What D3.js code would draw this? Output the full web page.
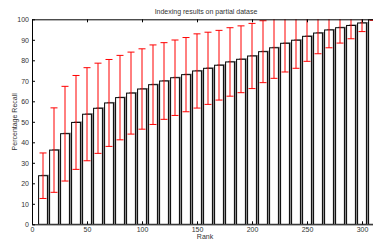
<!DOCTYPE html>
<html>
<head>
<meta charset="utf-8">
<script src="https://cdn.jsdelivr.net/npm/d3@7"></script>
<style>
  body { margin: 0; background: #fff; }
  svg { display: block; font-family: "Liberation Sans", Arial, sans-serif; }
</style>
</head>
<body>
<div id="chart-holder"></div>
<script>
// ranks on the x axis
const ranks = [10, 20, 30, 40, 50, 60, 70, 80, 90, 100, 110, 120, 130, 140, 150, 160,
  170, 180, 190, 200, 210, 220, 230, 240, 250, 260, 270, 280, 290, 300, 310];
// mean recall (%)
const recall = [23.7, 36.2, 44.2, 49.7, 53.7, 56.6, 59.2, 61.8, 64.0, 66.0, 68.1, 69.9,
  71.5, 73.0, 74.8, 76.1, 77.6, 79.2, 80.5, 82.1, 84.2, 86.1, 88.3, 89.8, 91.7, 93.3,
  94.8, 95.9, 97.0, 98.2, 100];
// standard deviation (error bar half-length)
const spread = [11.1, 20.6, 23.1, 22.9, 22.7, 22.0, 21.2, 20.6, 20.0, 19.6, 19.4, 18.7,
  18.4, 18.1, 18.1, 17.6, 17.0, 16.7, 16.3, 15.9, 15.1, 14.9, 14.0, 13.7, 12.2, 10.1,
  8.7, 7.5, 6.5, 4.2, 0.5];
const xTicks = [0, 50, 100, 150, 200, 250, 300];
const yTicks = [0, 10, 20, 30, 40, 50, 60, 70, 80, 90, 100];

const width = 373;
const height = 240;
const marginTop = 19.3;
const marginBottom = 15.7;
const marginLeft = 32;
const marginRight = 0;

const x = d3.scaleLinear().domain([0, 310]).range([marginLeft, width - marginRight]);
const y = d3.scaleLinear().domain([0, 100]).range([height - marginBottom, marginTop]);
const barW = x(8) - x(0);

const svg = d3.select("#chart-holder")
  .append("svg")
  .attr("width", width)
  .attr("height", height);

svg.append("clipPath").attr("id", "plot-clip")
  .append("rect")
  .attr("x", marginLeft)
  .attr("y", marginTop)
  .attr("width", width - marginRight - marginLeft)
  .attr("height", height - marginBottom - marginTop);

const plot = svg.append("g").attr("clip-path", "url(#plot-clip)");

// gray shadow behind each bar
plot.selectAll("rect.shadow")
  .data(ranks)
  .join("rect")
  .attr("class", "shadow")
  .attr("x", (d) => x(d) - barW / 2 + 2.6)
  .attr("y", (d, i) => y(recall[i]) - 1)
  .attr("width", barW)
  .attr("height", (d, i) => y(0) - y(recall[i]) + 1)
  .attr("fill", "#8c8c8c");

// the bars
plot.selectAll("rect.bar")
  .data(ranks)
  .join("rect")
  .attr("class", "bar")
  .attr("x", (d) => x(d) - barW / 2)
  .attr("y", (d, i) => y(recall[i]))
  .attr("width", barW)
  .attr("height", (d, i) => y(0) - y(recall[i]))
  .attr("fill", "#fff")
  .attr("stroke", "#000")
  .attr("stroke-width", 1);

// error bars
const err = plot.selectAll("g.err")
  .data(ranks)
  .join("g")
  .attr("class", "err")
  .attr("stroke", "#ff0000")
  .attr("stroke-width", 1);

err.append("line")
  .attr("x1", (d) => x(d)).attr("x2", (d) => x(d))
  .attr("y1", (d, i) => y(recall[i] - spread[i]))
  .attr("y2", (d, i) => y(recall[i] + spread[i]));
err.append("line")
  .attr("x1", (d) => x(d) - 3.5).attr("x2", (d) => x(d) + 3.5)
  .attr("y1", (d, i) => y(recall[i] - spread[i]))
  .attr("y2", (d, i) => y(recall[i] - spread[i]));
err.append("line")
  .attr("x1", (d) => x(d) - 3.5).attr("x2", (d) => x(d) + 3.5)
  .attr("y1", (d, i) => y(recall[i] + spread[i]))
  .attr("y2", (d, i) => y(recall[i] + spread[i]));

// axes, ticks pointing inward
const xAxis = svg.append("g")
  .attr("transform", `translate(0,${y(0)})`)
  .call(d3.axisBottom(x).tickValues(xTicks).tickSizeInner(-3).tickSizeOuter(0).tickPadding(3));
const xTop = svg.append("g")
  .attr("transform", `translate(0,${y(100)})`)
  .call(d3.axisTop(x).tickValues(xTicks).tickSizeInner(-3).tickSizeOuter(0).tickFormat(""));
const yAxis = svg.append("g")
  .attr("transform", `translate(${x(0)},0)`)
  .call(d3.axisLeft(y).tickValues(yTicks).tickSizeInner(-3).tickSizeOuter(0).tickPadding(3));

[xAxis, xTop, yAxis].forEach((g) => {
  g.select(".domain").attr("stroke", "#000").attr("stroke-width", 1);
  g.selectAll(".tick line").attr("stroke", "#000");
  g.selectAll("text")
    .attr("fill", "#333")
    .style("font-size", "7px")
    .style("font-family", "Liberation Sans, Arial, sans-serif");
});

svg.append("text")
  .attr("x", 206)
  .attr("y", 13.5)
  .attr("text-anchor", "middle")
  .attr("fill", "#333")
  .style("font-size", "7px")
  .text("Indexing results on partial datase");

svg.append("text")
  .attr("x", 205)
  .attr("y", 238.5)
  .attr("text-anchor", "middle")
  .attr("fill", "#333")
  .style("font-size", "7px")
  .text("Rank");

svg.append("text")
  .attr("transform", `translate(17,${(y(0) + y(100)) / 2}) rotate(-90)`)
  .attr("text-anchor", "middle")
  .attr("fill", "#333")
  .style("font-size", "7px")
  .text("Percentage Recall");
</script>
</body>
</html>
